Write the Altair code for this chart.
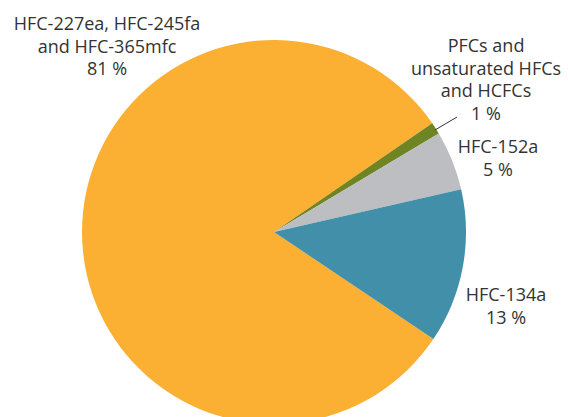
import math
import altair as alt
import pandas as pd

# Share of each gas group (%)
categories = [
    "HFC-227ea, HFC-245fa and HFC-365mfc",
    "PFCs and unsaturated HFCs and HCFCs",
    "HFC-152a",
    "HFC-134a",
]
shares = [81, 1, 5, 13]
colors = ["#FBB034", "#6F8422", "#BCBEC1", "#428FA9"]

label_lines = [
    ["HFC-227ea, HFC-245fa", "and HFC-365mfc"],
    ["PFCs and", "unsaturated HFCs", "and HCFCs"],
    ["HFC-152a"],
    ["HFC-134a"],
]

df = pd.DataFrame({"category": categories, "share": shares, "rank": list(range(len(categories)))})

cx, cy, r = 274, 232, 192
start = math.radians(123.9)

pie = alt.Chart(df).mark_arc(radius=r, stroke=None).encode(
    theta=alt.Theta("share:Q", stack=True, scale=alt.Scale(range=[start, start + 2 * math.pi])),
    order=alt.Order("rank:Q"),
    color=alt.Color("category:N", scale=alt.Scale(domain=categories, range=colors), legend=None),
    x=alt.value(cx),
    y=alt.value(cy),
)

FONT = "Open Sans"
text_color = "#333333"

# label anchor (center x, first line y) for each slice
anchors = [(107, 25), (486, 47), (498, 148), (506, 296)]

layers = [pie]
for i, (ax, ay) in enumerate(anchors):
    lines = label_lines[i] + [f"{shares[i]} %"]
    lab_df = pd.DataFrame({"label": [lines]})
    layers.append(
        alt.Chart(lab_df).mark_text(
            font=FONT, fontSize=18, color=text_color, align="center", baseline="middle",
            lineHeight=22.5,
        ).encode(text="label:N", x=alt.value(ax), y=alt.value(ay))
    )

# leader line for the small slice
leader = alt.Chart(pd.DataFrame({"k": [0]})).mark_rule(color="#333333", strokeWidth=1).encode(
    x=alt.value(435), y=alt.value(130), x2=alt.value(457), y2=alt.value(117)
)
layers.append(leader)

chart = alt.layer(*layers).properties(
    width=568, height=417, padding=0, autosize=alt.AutoSizeParams(type="none")
).configure_view(stroke=None)

chart.save("out.html", embed_options={"renderer": "svg", "actions": False})
